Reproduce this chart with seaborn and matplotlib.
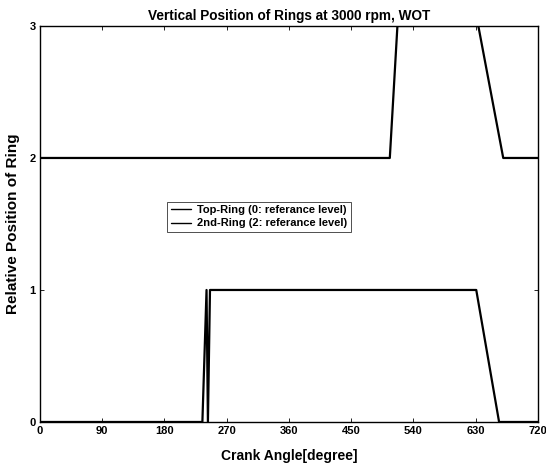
"""
Vertical ring position vs crank angle (3000 rpm, WOT).
"""

import matplotlib
matplotlib.use("Agg")
import matplotlib.pyplot as plt
import numpy as np
import pandas as pd
import seaborn as sns

# data
top_angle = [0, 235, 241, 243, 246, 631, 664, 720]
top_pos = [0, 0, 1, 0, 1, 1, 0, 0]
second_angle = [0, 506, 517, 634, 670, 720]
second_pos = [2, 2, 3, 3, 2, 2]
labels = ["Top-Ring (0: referance level)", "2nd-Ring (2: referance level)"]
x_ticks = [0, 90, 180, 270, 360, 450, 540, 630, 720]
y_ticks = [0, 1, 2, 3]

df = pd.concat([
    pd.DataFrame({"angle": top_angle, "pos": top_pos, "ring": labels[0]}),
    pd.DataFrame({"angle": second_angle, "pos": second_pos, "ring": labels[1]}),
])

sns.set_style("ticks")
plt.rcParams["font.family"] = ["Liberation Sans", "DejaVu Sans"]
plt.rcParams["font.weight"] = "bold"
plt.rcParams["text.color"] = "black"
plt.rcParams["axes.labelcolor"] = "black"
plt.rcParams["xtick.color"] = "black"
plt.rcParams["ytick.color"] = "black"

fig = plt.figure(figsize=(5.46, 4.67), dpi=100)
ax = fig.add_axes([0.073, 0.0964, 0.912, 0.848])

sns.lineplot(
    data=df, x="angle", y="pos", hue="ring", hue_order=labels,
    palette=["black", "black"], sort=False, estimator=None,
    linewidth=1.6, ax=ax,
)

ax.set_xlim(0, 720)
ax.set_ylim(0, 3)
ax.set_xticks(x_ticks)
ax.set_yticks(y_ticks)
ax.tick_params(direction="in", length=3, width=0.6, labelsize=8, pad=3,
               top=True, right=True)
for lab in ax.get_xticklabels() + ax.get_yticklabels():
    lab.set_fontweight("bold")
for sp in ax.spines.values():
    sp.set_linewidth(1.0)
    sp.set_color("black")

ax.set_title("Vertical Position of Rings at 3000 rpm, WOT",
             fontsize=9.8, fontweight="bold", pad=4)
ax.set_xlabel("Crank Angle[degree]", fontsize=10, fontweight="bold", labelpad=9)
ax.set_ylabel("Relative Position of Ring", fontsize=11, fontweight="bold", labelpad=7)

leg = ax.legend(loc="upper left", bbox_to_anchor=(0.245, 0.57), fontsize=8,
                handlelength=1.8, handletextpad=0.6, borderpad=0.3,
                labelspacing=0.3, frameon=True, fancybox=False)
leg.get_frame().set_edgecolor("black")
leg.get_frame().set_linewidth(0.6)
for t in leg.get_texts():
    t.set_fontweight("bold")
for ln in leg.get_lines():
    ln.set_linewidth(1.0)

fig.savefig("out.png", dpi=100)
